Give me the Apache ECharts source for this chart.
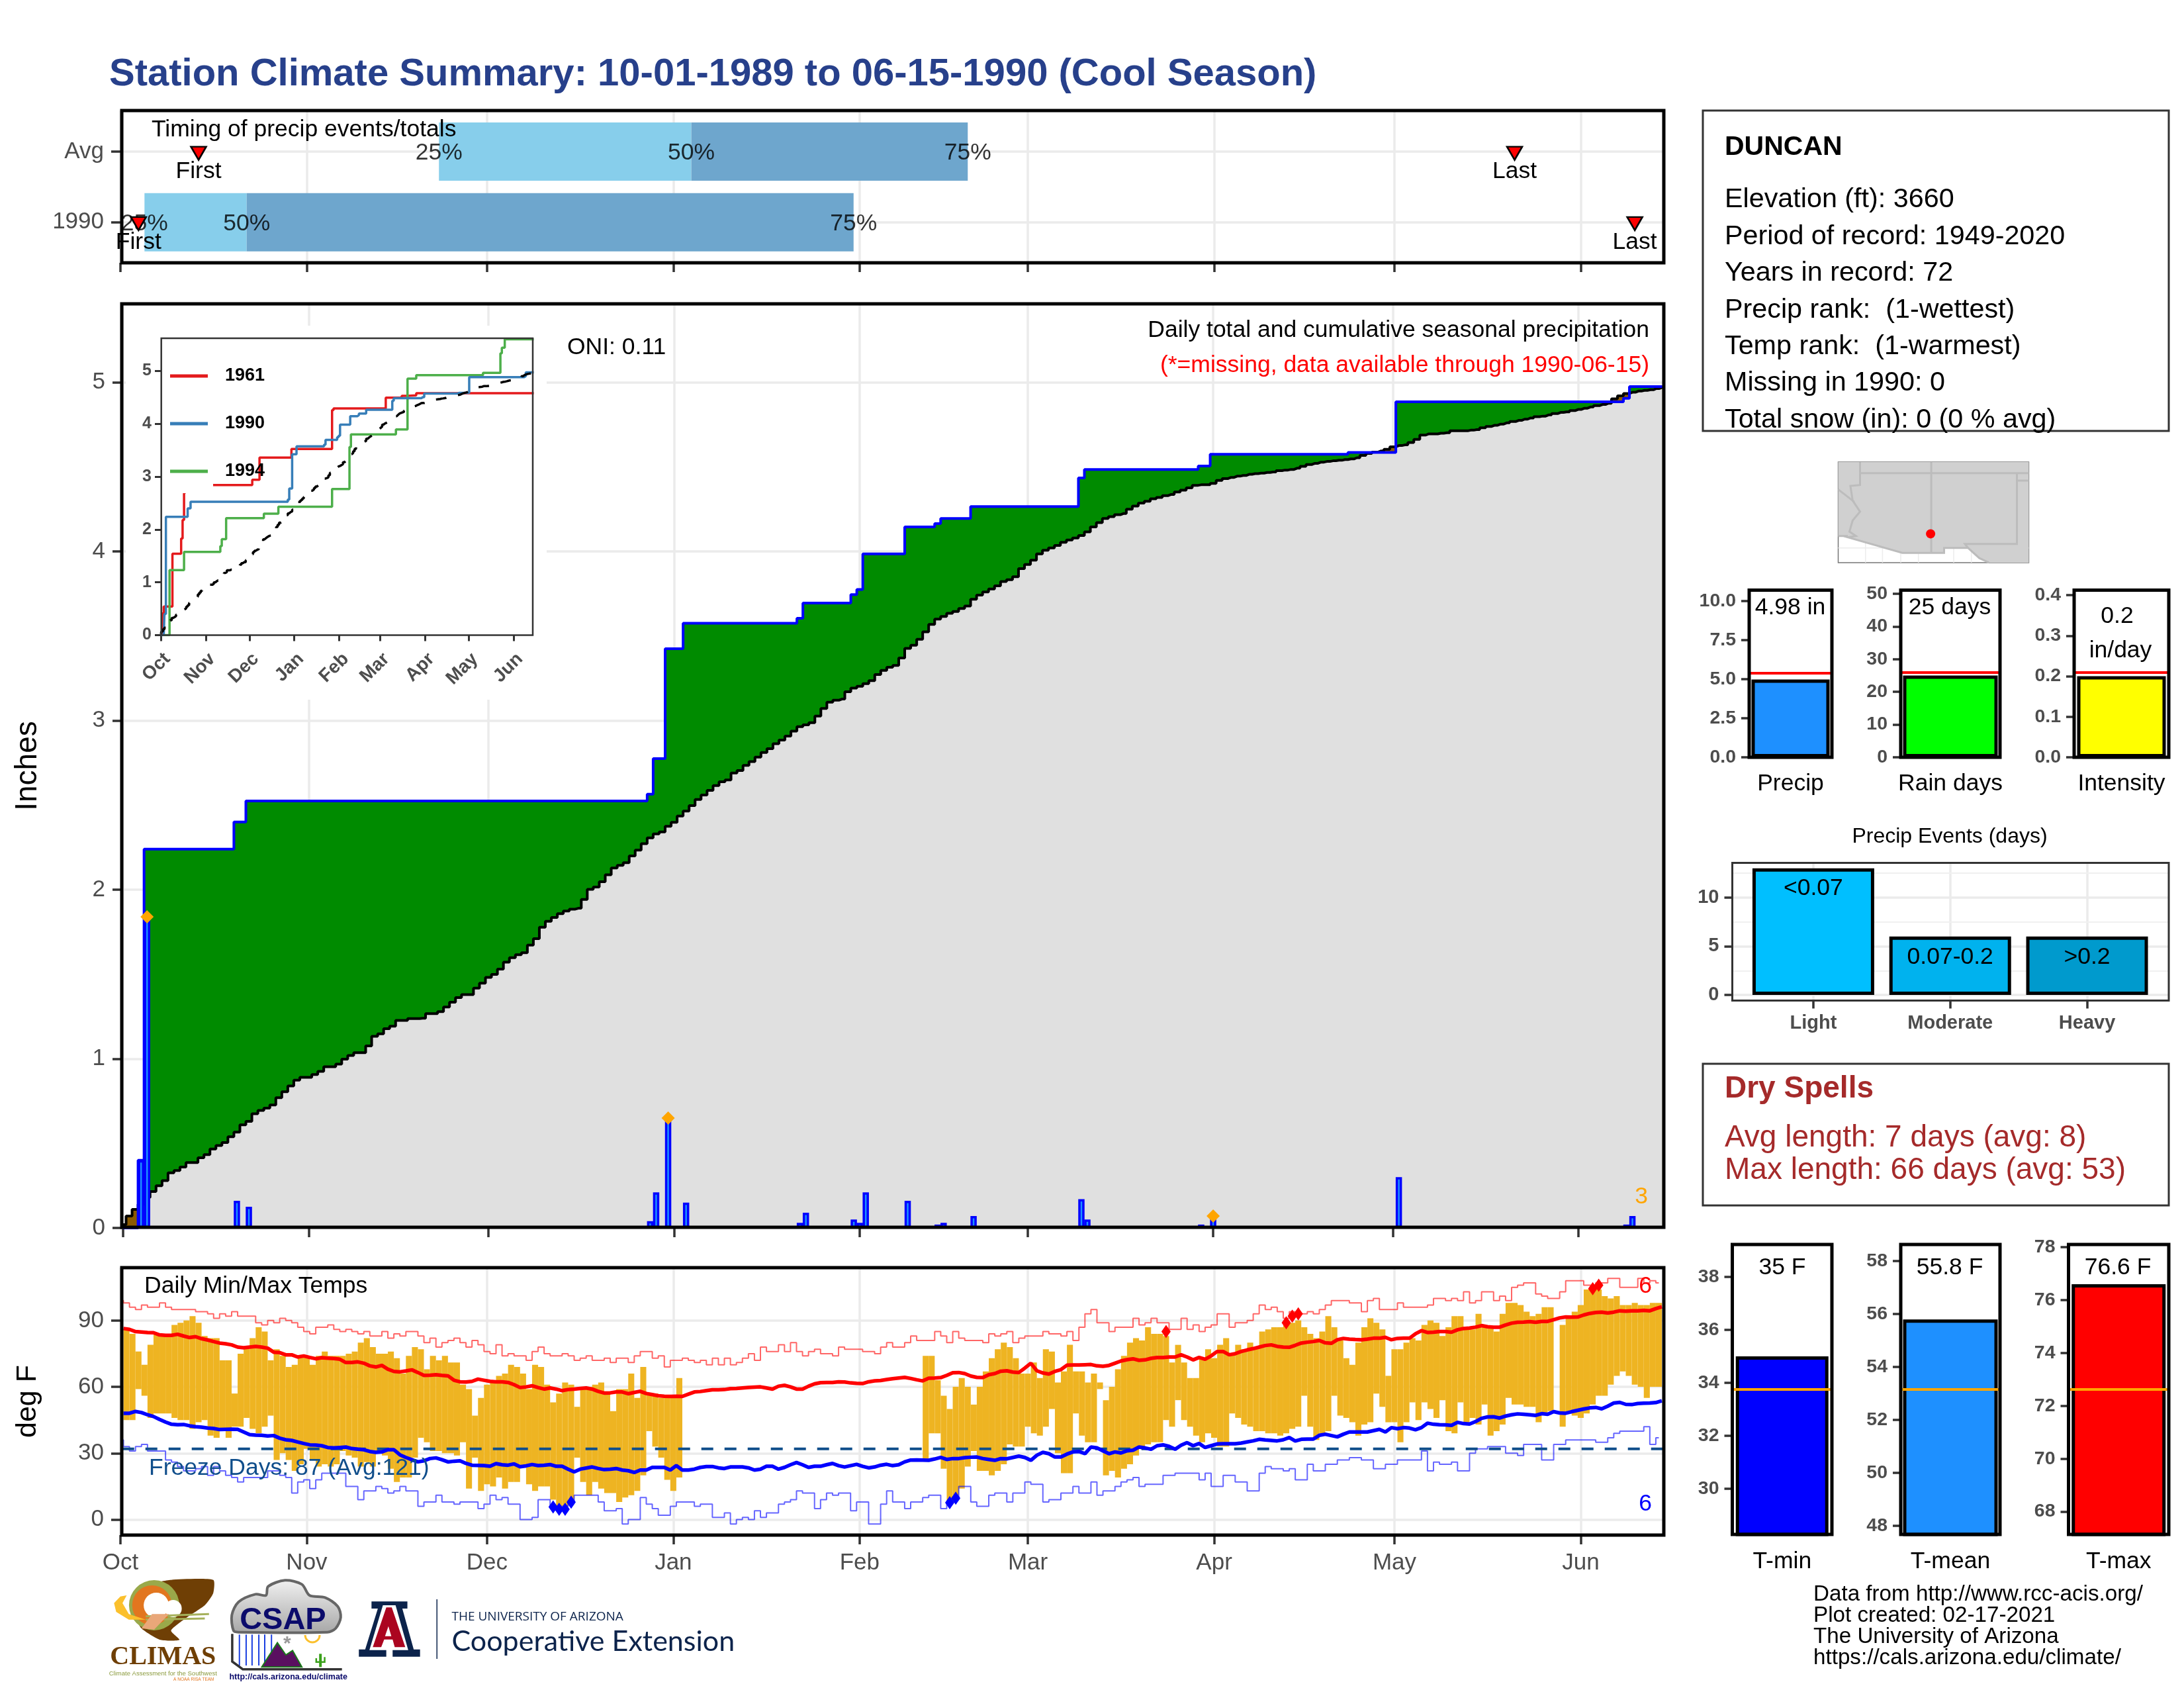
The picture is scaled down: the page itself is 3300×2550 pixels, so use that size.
<!DOCTYPE html>
<html>
<head>
<meta charset="utf-8">
<title>Station Climate Summary</title>
<script src="https://cdn.jsdelivr.net/npm/echarts@6/dist/echarts.min.js"></script>
<style>html,body{margin:0;background:#fff}#chart{width:3300px;height:2550px}</style>
</head>
<body>
<div id="chart"></div>
<script>
var FONT = '"Liberation Sans", Arial, sans-serif';
var GREY = '#4d4d4d';

// month ticks, counted in days from Oct 1
var monthDays = [0, 31, 61, 92, 123, 151, 182, 212, 243];
var monthNames = ['Oct', 'Nov', 'Dec', 'Jan', 'Feb', 'Mar', 'Apr', 'May', 'Jun'];

// timing of precip: [start day, end day]
var timingRows = ['1990', 'Avg'];
var timingAvgQuartiles = [53, 95, 141];
var timing1990Quartiles = [4, 21, 122];
var timingQuartileNames = ['25%', '50%', '75%'];
var timingFirst = [3, 13];
var timingLast = [252, 232];

// daily precip 1990 (only days with rain)
var rainDays = [3, 4, 19, 21, 88, 89, 91, 94, 113, 114, 122, 123, 124, 131, 136, 137, 142, 160, 161, 180, 182, 205, 213, 251, 252];
var rainAmounts = [0.40, 1.84, 0.16, 0.125, 0.04, 0.21, 0.65, 0.15, 0.03, 0.09, 0.05, 0.03, 0.21, 0.16, 0.02, 0.03, 0.07, 0.17, 0.05, 0.02, 0.07, 0.01, 0.30, 0.02, 0.07];
var rainTopDays = [4, 91, 182];
var rainTopValues = [1.84, 0.65, 0.07];

// average cumulative precip, one value per day
var avgCumulative = [
  0.02,0.07,0.11,0.14,0.18,0.215,0.25,0.28,0.326,0.34,0.36,0.387,0.387,0.415,0.433,0.467,0.487,0.505,0.539,0.567,
  0.61,0.63,0.675,0.695,0.708,0.727,0.77,0.805,0.84,0.874,0.89,0.89,0.907,0.926,0.953,0.953,0.969,0.998,1.02,1.036,
  1.036,1.076,1.133,1.148,1.178,1.193,1.227,1.227,1.238,1.238,1.24,1.267,1.267,1.279,1.306,1.335,1.362,1.38,1.38,1.418,
  1.447,1.481,1.499,1.53,1.571,1.598,1.616,1.627,1.672,1.71,1.778,1.813,1.836,1.858,1.874,1.885,1.89,1.942,2.002,2.016,
  2.047,2.088,2.128,2.144,2.16,2.2,2.234,2.272,2.306,2.33,2.342,2.375,2.398,2.436,2.465,2.497,2.533,2.56,2.587,2.616,
  2.638,2.649,2.69,2.705,2.735,2.757,2.784,2.811,2.834,2.863,2.885,2.908,2.937,2.964,2.975,2.987,3.027,3.072,3.109,3.12,
  3.127,3.17,3.192,3.203,3.218,3.236,3.272,3.297,3.315,3.326,3.37,3.427,3.445,3.481,3.525,3.569,3.6,3.616,3.634,3.645,
  3.663,3.677,3.717,3.742,3.76,3.778,3.797,3.822,3.833,3.85,3.898,3.923,3.948,3.985,4.007,4.021,4.035,4.054,4.068,4.079,
  4.094,4.116,4.145,4.17,4.195,4.206,4.217,4.224,4.25,4.268,4.286,4.297,4.311,4.319,4.33,4.337,4.351,4.362,4.376,4.391,
  4.394,4.394,4.402,4.42,4.431,4.438,4.445,4.449,4.456,4.46,4.463,4.467,4.47,4.478,4.481,4.485,4.492,4.503,4.514,4.521,
  4.528,4.532,4.536,4.539,4.543,4.547,4.554,4.568,4.579,4.587,4.594,4.604,4.619,4.626,4.63,4.644,4.663,4.688,4.695,4.695,
  4.699,4.702,4.713,4.713,4.713,4.717,4.72,4.731,4.739,4.746,4.753,4.76,4.768,4.775,4.782,4.789,4.797,4.8,4.807,4.815,
  4.822,4.825,4.833,4.84,4.847,4.854,4.862,4.869,4.876,4.902,4.92,4.934,4.941,4.948,4.952,4.956,4.963,4.97
];

// inset: other years as [day of change], [cumulative inches]
var inset1961Days = [0, 1, 2, 8, 14, 15, 16, 17, 63, 68, 90, 118, 119, 155, 166, 170, 176, 257];
var inset1961Values = [0, 0.41, 0.54, 1.54, 1.83, 2.18, 2.7, 2.84, 2.94, 3.36, 3.525, 4.26, 4.29, 4.495, 4.53, 4.54, 4.58, 4.58];
var inset1994Days = [0, 5, 6, 16, 41, 42, 45, 71, 81, 118, 130, 131, 162, 170, 176, 222, 234, 235, 237, 257];
var inset1994Values = [0, 0, 1.23, 1.575, 1.686, 1.815, 2.214, 2.3, 2.43, 2.767, 3.56, 3.8, 3.895, 4.856, 4.92, 4.966, 5.336, 5.44, 5.6, 5.6];

// daily temps
var dailyMax = [
  86,84,76,70,79,84,84,84,88,89,90,92,89,83,82,82,72,72,57,75,78,82,87,85,72,77,74,69,70,74,
  74,70,74,76,74,74,74,75,76,80,82,78,75,75,76,73,66,74,78,77,68,74,72,74,71,71,61,59,47,55,
  61,62,65,66,70,69,66,59,70,69,61,53,57,62,61,51,59,60,61,62,58,49,59,59,66,55,69,57,57,55,
  56,56,64,null,null,null,null,null,null,null,null,null,null,null,null,null,null,null,null,null,
  null,null,null,null,null,null,null,null,null,null,null,null,null,null,null,null,null,null,null,null,
  null,null,null,74,74,63,56,50,60,64,60,52,60,67,73,77,80,78,73,66,66,71,64,77,76,62,67,79,67,
  67,62,66,62,54,60,68,74,80,82,81,87,84,84,83,71,79,71,64,64,73,77,73,79,82,75,79,77,80,78,
  85,86,87,87,88,89,90,87,84,82,85,92,87,81,73,70,80,87,91,89,86,65,77,77,80,82,81,88,90,89,
  83,87,92,92,86,86,93,87,87,85,93,98,98,97,94,92,93,96,96,null,88,91,94,97,104,104,104,101,100,101,
  97,97,98,97,97,98,98
];
var dailyMin = [
  45,45,59,56,46,48,48,48,46,45,45,41,44,45,38,37,41,37,42,42,46,41,39,42,47,27,30,27,22,25,
  32,27,24,25,24,25,31,29,28,24,26,24,31,29,23,17,19,19,28,37,35,31,31,30,30,29,35,14,28,13,
  16,15,19,14,17,17,24,16,13,15,15,9,6,6,7,28,17,11,17,14,12,12,8,10,11,13,20,40,33,28,
  18,13,19,null,null,null,null,null,null,null,null,null,null,null,null,null,null,null,null,null,
  null,null,null,null,null,null,null,null,null,null,null,null,null,null,null,null,null,null,null,null,
  null,null,null,27,39,39,23,8,11,14,24,31,22,22,20,22,25,34,33,33,42,39,38,42,50,30,21,21,48,
  38,35,35,59,20,22,19,23,25,29,33,34,35,35,45,42,54,45,42,38,35,39,37,33,33,48,46,43,42,40,
  40,39,39,38,39,41,42,56,42,36,39,40,56,47,46,44,38,43,44,57,51,44,44,35,44,53,45,53,50,46,
  54,40,39,53,43,46,43,52,38,40,43,55,52,52,51,51,44,48,49,null,42,48,47,46,48,52,56,56,61,65,
  67,65,61,60,55,60,60
];
var normalMax = [
  86.4,86,85,84.8,84.6,84.5,83.5,83.3,83.3,83.8,83,82.3,82.7,81.8,81.2,80.5,79.8,79.5,79,78,
  77.7,78,78.3,78,77.5,75.7,75.5,74.5,74.5,73.5,74,73.3,72.7,73.2,73,72.8,72.5,71,71,71.3,
  70.7,69.5,69,69.7,68,67,66.8,67.2,67.7,66.5,65.2,65.3,65.5,65.2,65,63,62.3,62.2,62.5,63.5,
  63,62.5,62.3,62.3,62,61,59.7,60,60.5,59.7,59,59.5,59,58.3,58.8,59,59.3,59.5,59,58,
  57.2,57.3,57.7,57.7,56.9,57.5,58,57,56.5,56,55.8,55.7,55.8,55.7,56.7,57.7,57.9,58.3,58.7,58.7,
  58.8,59.2,59.3,59.5,59.7,59.9,60,59.5,59,60.3,60.7,60,59,59,60.3,61.4,61.9,62,62,62.3,
  62.2,61.8,61.6,61.5,62.3,62.7,62.9,63.3,63.7,64,64.3,63.8,63.2,62.7,63.9,64,64.2,65.2,66.4,66.5,
  66,64.9,64.3,64.2,65.5,66,67.1,67.3,66.7,66.5,68.5,70.7,67.3,66.3,65.8,67,67.8,69.8,69.9,69.9,
  70,70.1,69.5,69.3,69.7,70.7,71.7,72.3,72.7,72,72.2,72.9,73.3,73.3,73.5,73.5,74.5,73.5,72.2,73.3,
  72.5,74,76,76,74.5,75,76,76.7,77.3,78,78.7,79,78.3,78,77.9,78.8,79.8,80.2,80.5,81,
  79.9,79.7,81.3,81.9,81.6,81.4,81.3,81.6,82,82,82.4,81.3,81.9,82,82,84,85.4,84.6,84.7,85,
  85,84.7,85.8,86.4,86.6,87,87.7,87.2,87,87,88,88.8,89.2,89.3,89.5,89.2,89.6,89.6,90.4,91.2,
  91.6,91.5,91.6,92.5,93.2,93.6,93.8,93.4,93.8,94.4,94.2,94.4,94.4,94.6,94.4,95.4,96.2
];
var normalMin = [
  48.1,48.1,48.9,48.4,47.4,46.6,45.3,44.1,43.1,42.9,43,42.4,42,41.8,41.4,41.2,40.7,40.8,40.9,40.8,
  39.6,38.4,38.2,38.1,37.8,38,36.8,36.1,35.8,35.1,34.4,33.8,33.7,33.4,32.6,32.4,32.6,32.8,32.1,31.8,
  31.6,30.8,30.4,30.6,31.6,31.6,29.3,28.1,27.1,26.1,26.6,27.6,27.9,27.1,26.1,26.4,26.6,25.4,24.6,24.5,
  24.4,24.1,25.3,24.8,24.6,25.2,23.9,24.3,24.9,24.4,24.6,24.9,24.1,24.1,22.8,21.6,22.8,23.3,23.8,23.1,
  22.6,22.8,23.1,22.4,22.1,21.3,22.4,22.4,23.6,23.6,23.6,22.4,24.4,22.4,22.4,22.8,23.6,24,24,23.4,
  23.1,23.8,23.8,23.8,23.4,22.4,22.8,24.1,24.1,22.8,23.6,24.8,25.8,24.8,23.6,24.1,24.1,24.8,25.4,24.4,
  23.8,24.4,25,24.1,23.4,23.8,24.6,25,24.4,24.8,26.1,26.9,27,26.9,26.8,27.4,28.1,27.2,27.6,27.6,
  28,28.2,28.3,27.6,27.2,26.8,27.6,27.5,28.1,28.7,28.1,26.8,29.1,30.4,29.8,28.3,28.3,29.6,30.6,30.8,
  29.8,32.8,32.4,31.1,29.8,30.6,30.1,31.1,31.4,32.8,32.4,31.8,33.4,33.8,33.1,31.8,33.6,34.8,33.4,34.4,
  32.6,33.4,34.2,34.3,34.3,34.3,34.6,35.1,35.6,36.3,36,35.8,35.6,36.1,37.1,35.5,36.3,36.4,36.4,38.1,
  38.6,38,37.4,38.6,39.6,39.6,39.6,39.6,40.2,40.8,39.6,41.6,41.1,41.6,41.4,40.6,41.6,43.6,43.1,42.9,
  42.8,42.6,44,43.4,43.2,44.3,45.8,46.4,46.5,45.9,46.8,47.4,47.8,47.6,47.4,47.1,47.9,47.6,48.8,48.2,
  48.1,48.8,49.4,50,50.5,50.7,50.1,51.3,52.7,53,52.1,52,52.5,52.6,52.7,52.9,53.7
];
var recordHigh = [
  99,98,96,95,97,96,96,98,96,95,95,95,95,94,94,93,91,93,92,94,92,92,92,89,88,90,89,91,90,89,
  87,85,84,87,87,88,86,85,86,85,84,85,83,83,85,82,84,83,85,85,83,80,82,78,80,81,82,80,78,81,
  79,76,75,79,74,75,74,74,72,76,78,75,74,74,75,74,72,73,74,72,72,73,71,73,73,71,74,76,76,73,
  74,69,72,72,73,72,71,72,70,73,70,73,70,71,73,75,72,78,76,76,79,76,80,76,74,76,77,75,75,74,
  78,77,77,77,76,76,75,78,80,78,78,80,83,81,81,81,85,83,80,85,82,81,81,81,80,84,83,84,85,80,
  82,83,83,83,85,84,84,83,85,81,87,93,95,89,89,85,87,87,87,91,88,89,91,89,89,86,86,91,86,88,
  85,87,88,93,93,87,89,89,90,93,97,95,96,94,91,94,93,93,94,93,95,97,99,99,99,98,98,94,99,100,
  95,95,95,98,96,96,96,96,97,100,100,99,100,99,103,98,99,103,103,99,101,99,105,106,107,107,102,101,100,100,
  103,108,108,108,106,106,107,107,109,109,105,105,105,109,107,108,107
];
var recordLow = [
  36,33,31,33,34,31,31,31,27,26,24,22,22,23,24,20,24,22,20,19,17,19,19,19,19,22,22,20,19,12,
  17,18,14,18,21,21,21,21,15,15,9,13,13,15,14,12,13,15,13,13,6,8,8,11,8,8,7,8,8,8,
  5,7,11,9,10,7,7,0,0,1,9,9,6,6,6,8,11,11,11,11,8,4,4,5,-2,0,0,10,7,5,
  2,2,6,8,8,8,6,7,7,1,1,3,-2,0,1,0,4,1,3,3,7,8,9,13,12,12,5,9,12,11,
  12,12,4,8,8,-2,-2,7,13,8,8,5,8,8,10,11,11,5,8,9,15,15,8,6,6,11,12,12,8,12,
  12,17,16,16,8,9,9,12,12,15,12,12,17,11,13,13,15,17,18,19,15,16,16,16,20,20,21,21,21,21,
  18,21,15,15,20,20,17,17,13,13,21,24,23,23,22,23,18,18,25,22,22,25,25,27,27,28,28,27,27,23,
  23,25,25,27,27,27,27,31,22,26,25,25,26,22,22,30,32,32,33,33,33,30,30,29,34,34,34,27,27,34,
  34,36,36,36,36,36,35,35,37,39,40,40,40,40,42,34,37
];
var maxDiamondDays = [174, 194, 195, 196, 245, 246];
var maxDiamondValues = [85, 89, 92, 93, 104.4, 106];
var minDiamondDays = [72, 73, 74, 75, 138, 139];
var minDiamondValues = [5.7, 4.7, 4.7, 7.9, 7.7, 9.7];
var freezeLine = 32;

// small summary bars
var summaryLabels = ['Precip', 'Rain days', 'Intensity'];
var summaryValues = [4.98, 25, 0.2];
var summaryAvg = [5.38, 26, 0.21];
var summaryNotes = [['4.98 in'], ['25 days'], ['0.2', 'in/day']];
var summaryTicks = [[0, 2.5, 5, 7.5, 10], [0, 10, 20, 30, 40, 50], [0, 0.1, 0.2, 0.3, 0.4]];

var eventLabels = ['Light', 'Moderate', 'Heavy'];
var eventNames = ['<0.07', '0.07-0.2', '>0.2'];
var eventValues = [13, 6, 6];

var tempLabels = ['T-min', 'T-mean', 'T-max'];
var tempValues = [35, 55.8, 76.6];
var tempAvg = [33.76, 53.16, 72.63];
var tempNotes = ['35 F', '55.8 F', '76.6 F'];
var tempTicks = [[30, 32, 34, 36, 38], [48, 50, 52, 54, 56, 58], [68, 70, 72, 74, 76, 78]];

var stationName = 'DUNCAN';
var stationLines = ['Elevation (ft): 3660', 'Period of record: 1949-2020', 'Years in record: 72', 'Precip rank:  (1-wettest)', 'Temp rank:  (1-warmest)', 'Missing in 1990: 0', 'Total snow (in): 0 (0 % avg)'];
var drySpellLines = ['Avg length: 7 days (avg: 8)', 'Max length: 66 days (avg: 53)'];
var footerLines = ['Data from http://www.rcc-acis.org/', 'Plot created: 02-17-2021', 'The University of Arizona', 'https://cals.arizona.edu/climate/'];

// series built from the arrays above
var avgSeries = avgCumulative.map(function (v, d) { return [d, v]; });
var cumSeries = [];
var running = 0;
avgCumulative.forEach(function (v, d) {
  var k = rainDays.indexOf(d);
  if (k >= 0) running += rainAmounts[k];
  cumSeries.push([d, +running.toFixed(3)]);
});
var lowerSeries = cumSeries.map(function (p, d) { return [d, Math.min(p[1], avgCumulative[d])]; });
var rainSeries = rainDays.map(function (d, i) { return [d, rainAmounts[i]]; });
var tempBars = [];
dailyMax.forEach(function (v, i) {
  if (v !== null) tempBars.push([i + 1, dailyMin[i], v]);
});
function zip(a, b) { return a.map(function (v, i) { return [v, b[i]]; }); }

var grids = [], xAxes = [], yAxes = [], series = [], els = [];

function addGrid(left, top, right, bottom) {
  grids.push({ left: left, top: top, width: right - left, height: bottom - top, containLabel: false, outerBoundsMode: 'none' });
  return grids.length - 1;
}
function tickStyle(len, w) {
  return { show: true, length: len, lineStyle: { color: '#333333', width: w } };
}
var gridLine = { show: true, lineStyle: { color: '#ebebeb', width: 3.5 } };

function monthAxis(g, min, max, opt) {
  opt = opt || {};
  xAxes.push({
    gridIndex: g, type: 'value', min: min, max: max, z: opt.z || 0,
    axisLine: { show: false, onZero: false },
    axisTick: Object.assign(tickStyle(opt.tick || 14, opt.tickW || 3.5), { customValues: monthDays }),
    axisLabel: {
      show: !!opt.labels, customValues: monthDays, margin: opt.margin || 25,
      color: GREY, fontFamily: FONT, fontSize: opt.size || 35, fontWeight: opt.weight || 'normal', rotate: opt.rotate || 0,
      verticalAlign: opt.rotate ? 'top' : undefined,
      formatter: function (v) { return monthNames[monthDays.indexOf(v)]; }
    },
    splitLine: opt.noGrid ? { show: false } : gridLine
  });
  return xAxes.length - 1;
}
function valueAxis(g, min, max, ticks, opt) {
  opt = opt || {};
  yAxes.push({
    gridIndex: g, type: 'value', min: min, max: max, z: opt.z || 0,
    name: opt.name, nameLocation: 'middle', nameGap: opt.nameGap,
    nameTextStyle: { color: '#000', fontFamily: FONT, fontSize: opt.nameSize || 43 },
    axisLine: { show: false, onZero: false },
    axisTick: Object.assign(tickStyle(opt.tick || 14, opt.tickW || 3.5), { customValues: ticks }),
    axisLabel: {
      customValues: ticks, margin: opt.margin || 25, color: GREY, fontFamily: FONT,
      fontSize: opt.size || 35, fontWeight: opt.weight || 'normal', padding: [8, 0, 0, 0],
      formatter: opt.fmt || function (v) { return String(v); }
    },
    splitLine: opt.noGrid ? { show: false } : gridLine
  });
  return yAxes.length - 1;
}
function frame(x0, y0, x1, y1, w, c) {
  els.push({ type: 'rect', z: 20, silent: true, shape: { x: x0, y: y0, width: x1 - x0, height: y1 - y0 }, style: { fill: 'none', stroke: c || '#000', lineWidth: w } });
}
function text(x, y, s, size, opt) {
  opt = opt || {};
  els.push({
    type: 'text', z: opt.z || 21, silent: true, x: x, y: y + 3,
    style: {
      text: s, fill: opt.color || '#000', fontFamily: opt.family || FONT, fontSize: size, fontWeight: opt.weight || 'normal',
      align: opt.align || 'left', verticalAlign: 'middle', textAlign: opt.align || 'left', textVerticalAlign: 'middle'
    }
  });
}
function poly(pts, fill, stroke, lw, fx, fy, smooth) {
  els.push({
    type: 'polygon', z: 21, silent: true,
    shape: { points: pts.map(function (p) { return [fx(p[0]), fy(p[1])]; }), smooth: smooth || 0 },
    style: { fill: fill, stroke: stroke || 'none', lineWidth: lw || 0 }
  });
}
function line(pts, stroke, lw, fx, fy) {
  els.push({
    type: 'polyline', z: 21, silent: true,
    shape: { points: pts.map(function (p) { return [fx(p[0]), fy(p[1])]; }) },
    style: { fill: 'none', stroke: stroke, lineWidth: lw }
  });
}

// timing panel
var gTop = addGrid(182, 167, 2514, 397);
var xTop = monthAxis(gTop, 0, 256.83);
var yTop = valueAxis(gTop, 0.426, 2.58, [1, 2], {
  noGrid: false, fmt: function (v) { return timingRows[v - 1]; }
});
function timingRect(params, api) {
  var a = api.coord([api.value(0), api.value(2) + 0.412]);
  var b = api.coord([api.value(1), api.value(2) - 0.412]);
  return { type: 'rect', shape: { x: a[0], y: a[1], width: b[0] - a[0], height: b[1] - a[1] }, style: { fill: api.value(3) ? '#6ea6cd' : '#87ceeb' } };
}
series.push({
  type: 'custom', name: 'timing', xAxisIndex: xTop, yAxisIndex: yTop, z: 2, silent: true,
  renderItem: timingRect, encode: { x: [0, 1], y: 2 },
  data: [
    [timingAvgQuartiles[0], timingAvgQuartiles[1], 2, 0], [timingAvgQuartiles[1], timingAvgQuartiles[2], 2, 1],
    [timing1990Quartiles[0], timing1990Quartiles[1], 1, 0], [timing1990Quartiles[1], timing1990Quartiles[2], 1, 1]
  ]
});
function quartileData(days, row) {
  return days.map(function (d, i) { return { value: [d, row], name: timingQuartileNames[i] }; });
}
series.push({
  type: 'scatter', name: 'quartiles', xAxisIndex: xTop, yAxisIndex: yTop, z: 3, silent: true, symbolSize: 0,
  data: quartileData(timingAvgQuartiles, 2).concat(quartileData(timing1990Quartiles, 1)),
  label: { show: true, position: 'inside', offset: [0, 2], formatter: '{b}', color: '#000', fontFamily: FONT, fontSize: 35.5 }
});
function markerSeries(days, word) {
  return {
    type: 'scatter', name: word, xAxisIndex: xTop, yAxisIndex: yTop, z: 4, silent: true,
    symbol: 'triangle', symbolRotate: 180, symbolSize: [23, 20],
    itemStyle: { color: '#ff0000', borderColor: '#000', borderWidth: 2.5, opacity: 1 },
    data: [[days[0], 0.98], [days[1], 1.975]],
    label: { show: true, position: 'inside', offset: [0, 28], formatter: word, color: '#000', fontFamily: FONT, fontSize: 35.5 }
  };
}
series.push(markerSeries(timingFirst, 'First'));
series.push(markerSeries(timingLast, 'Last'));
frame(184, 167, 2514, 397, 5);
text(229, 193, 'Timing of precip events/totals', 35.5, {});

// main precip panel
var gMain = addGrid(184, 459, 2514, 1855);
var xMain = monthAxis(gMain, -0.22, 257.24);
var yMain = valueAxis(gMain, 0, 5.464, [0, 1, 2, 3, 4, 5], { name: 'Inches', nameGap: 119, nameSize: 46 });
function areaSeries(name, data, color, z) {
  return {
    type: 'line', name: name, xAxisIndex: xMain, yAxisIndex: yMain, z: z, silent: true, step: 'middle', showSymbol: false,
    lineStyle: { width: 0, opacity: 0 }, areaStyle: { color: color, opacity: 1 }, data: data
  };
}
series.push(areaSeries('above average', cumSeries, '#008b00', 2));
series.push(areaSeries('below average', avgSeries, '#8b5a00', 3));
series.push(areaSeries('under both', lowerSeries, '#e0e0e0', 4));
series.push({
  type: 'line', name: 'avg cumulative', xAxisIndex: xMain, yAxisIndex: yMain, z: 5, silent: true, step: 'middle', showSymbol: false,
  lineStyle: { color: '#000', width: 4 }, data: avgSeries
});
series.push({
  type: 'line', name: 'cumulative 1990', xAxisIndex: xMain, yAxisIndex: yMain, z: 6, silent: true, step: 'middle', showSymbol: false,
  lineStyle: { color: '#0000ff', width: 4 }, data: cumSeries
});
series.push({
  type: 'bar', name: 'daily precip', xAxisIndex: xMain, yAxisIndex: yMain, z: 7, silent: true, barWidth: 9.5,
  itemStyle: { color: '#1e90ff', borderColor: '#0000ff', borderWidth: 3.5 }, data: rainSeries
});
series.push({
  type: 'scatter', name: 'top events', xAxisIndex: xMain, yAxisIndex: yMain, z: 8, silent: true, symbol: 'diamond', symbolSize: 20,
  itemStyle: { color: '#ffa500', opacity: 1 }, data: zip(rainTopDays, rainTopValues)
});
frame(184, 459, 2514, 1854, 5);
text(2492, 496, 'Daily total and cumulative seasonal precipitation', 35.5, { align: 'right' });
text(2492, 549, '(*=missing, data available through 1990-06-15)', 35.5, { align: 'right', color: '#ff0000' });
text(857, 522, 'ONI: 0.11', 35.5, {});
text(2480, 1805, '3', 35.5, { align: 'center', color: '#ffa500' });

// inset of wet years, white patch hides the main grid behind it
els.push({ type: 'rect', z: 1, silent: true, shape: { x: 190, y: 492, width: 636, height: 565 }, style: { fill: '#fff' } });
var gInset = addGrid(243, 511, 805, 959.4);
var xInset = monthAxis(gInset, 0, 256.3, { labels: true, size: 28, weight: 'bold', rotate: 45, tick: 9, tickW: 3, margin: 22, z: 3, noGrid: true });
var yInset = valueAxis(gInset, 0, 5.62, [0, 1, 2, 3, 4, 5], { size: 25, weight: 'bold', tick: 9, tickW: 3, margin: 14, z: 3, noGrid: true });
function insetSeries(name, data, color, step, z) {
  return {
    type: 'line', name: name, xAxisIndex: xInset, yAxisIndex: yInset, z: z, silent: true, step: step, showSymbol: false,
    color: color, lineStyle: { color: color, width: 3.5 }, data: data
  };
}
series.push(insetSeries('1961', zip(inset1961Days, inset1961Values), '#e41a1c', 'end', 3));
series.push(insetSeries('1994', zip(inset1994Days, inset1994Values), '#4daf4a', 'end', 3));
series.push(insetSeries('1990', cumSeries, '#377eb8', 'middle', 4));
var insetAvg = insetSeries('avg', avgSeries, '#000', 'middle', 5);
insetAvg.lineStyle.type = [16, 18];
series.push(insetAvg);
els.push({ type: 'rect', z: 6, silent: true, shape: { x: 246, y: 542, width: 76, height: 203 }, style: { fill: '#fff' } });
frame(243.7, 511, 805, 959.4, 2.5, '#333333');

// daily temps panel
var gTemp = addGrid(182, 1915, 2514, 2319);
var xTemp = monthAxis(gTemp, 0, 256.83, { labels: true, margin: 25 });
var yTemp = valueAxis(gTemp, -7, 113.9, [0, 30, 60, 90], { name: 'deg F', nameGap: 118 });
series.push({
  type: 'custom', name: 'daily range', xAxisIndex: xTemp, yAxisIndex: yTemp, z: 2, silent: true, encode: { x: 0, y: [1, 2] },
  renderItem: function (params, api) {
    var low = api.coord([api.value(0), api.value(1)]);
    var high = api.coord([api.value(0), api.value(2)]);
    var w = api.size([1, 0])[0];
    return { type: 'rect', shape: { x: low[0] - w / 2, y: high[1], width: w, height: low[1] - high[1] }, style: { fill: '#eeb422' } };
  },
  data: tempBars
});
function dayLine(name, arr, offset, color, width, opacity, step, z) {
  return {
    type: 'line', name: name, xAxisIndex: xTemp, yAxisIndex: yTemp, z: z, silent: true, showSymbol: false, step: step,
    lineStyle: { color: color, width: width, opacity: opacity },
    data: arr.map(function (v, i) { return [i + offset, v]; })
  };
}
series.push(dayLine('record high', recordHigh, 0, '#ff0000', 2, 0.6, 'middle', 3));
series.push(dayLine('record low', recordLow, 0, '#0000ff', 2, 0.6, 'middle', 3));
series.push({
  type: 'line', name: 'freeze', xAxisIndex: xTemp, yAxisIndex: yTemp, z: 4, silent: true, showSymbol: false,
  lineStyle: { color: '#104e8b', width: 4, type: [18, 17] }, data: [[0.3, freezeLine], [256.83, freezeLine]]
});
series.push(dayLine('normal high', normalMax, 0.5, '#ff0000', 5.5, 1, false, 5));
series.push(dayLine('normal low', normalMin, 0.5, '#0000ff', 5.5, 1, false, 5));
function diamonds(name, days, vals, color) {
  return {
    type: 'scatter', name: name, xAxisIndex: xTemp, yAxisIndex: yTemp, z: 6, silent: true, symbol: 'diamond', symbolSize: [14, 20],
    itemStyle: { color: color, opacity: 1 }, data: zip(days, vals)
  };
}
series.push(diamonds('new highs', maxDiamondDays, maxDiamondValues, '#ff0000'));
series.push(diamonds('new lows', minDiamondDays, minDiamondValues, '#0000ff'));
frame(184, 1915, 2514, 2319, 5);
text(218, 1940, 'Daily Min/Max Temps', 35.5, {});
text(225, 2215, 'Freeze Days: 87 (Avg:121)', 35.5, { color: '#104e8b' });
text(2486, 1940, '6', 35.5, { align: 'center', color: '#ff0000' });
text(2486, 2269, '6', 35.5, { align: 'center', color: '#0000ff' });

// small bars with one value and a reference line
function smallBar(layout, label, value, refValue, refColor, ticks, fmt, color) {
  var g = addGrid(layout[0], layout[2], layout[1], layout[3]);
  xAxes.push({
    gridIndex: g, type: 'category', data: [label], axisLine: { show: false }, axisTick: { show: false }, splitLine: { show: false },
    axisLabel: { margin: layout[7], color: '#000', fontFamily: FONT, fontSize: 35.5 }
  });
  var y = valueAxis(g, layout[4], layout[5], ticks, { noGrid: true, size: 28.5, weight: 'bold', tick: 12, margin: 20, fmt: fmt });
  series.push({
    type: 'bar', name: label, xAxisIndex: xAxes.length - 1, yAxisIndex: y, z: 3, silent: true, barWidth: layout[6],
    itemStyle: { color: color, borderColor: '#000', borderWidth: 5 }, data: [value],
    markLine: {
      silent: true, symbol: 'none', animation: false, label: { show: false }, data: [{ yAxis: refValue }],
      lineStyle: { color: refColor, width: 4, type: 'solid' }
    }
  });
  frame(layout[0], layout[2], layout[1], layout[3], 5);
}
var summaryLayout = [
  [2643, 2768, 891.5, 1144, 0, 10.7, 118, 22],
  [2872, 3022, 891.5, 1144, 0, 51.1, 143, 22],
  [3134, 3277, 891.5, 1144, 0, 0.4126, 134, 22]
];
var summaryColors = ['#1e90ff', '#00ff00', '#ffff00'];
var summaryFmt = [
  function (v) { return v.toFixed(1); },
  function (v) { return String(v); },
  function (v) { return v.toFixed(1); }
];
summaryLabels.forEach(function (label, i) {
  smallBar(summaryLayout[i], label, summaryValues[i], summaryAvg[i], '#ff0000', summaryTicks[i], summaryFmt[i], summaryColors[i]);
});
text(2705, 915, summaryNotes[0][0], 35.5, { align: 'center' });
text(2946, 915, summaryNotes[1][0], 35.5, { align: 'center' });
text(3199, 928, summaryNotes[2][0], 35.5, { align: 'center' });
text(3204, 980, summaryNotes[2][1], 35.5, { align: 'center' });

var tempLayout = [
  [2617.5, 2768, 1880, 2318, 28.27, 39.23, 140, 23],
  [2872, 3022, 1880, 2318, 47.68, 58.63, 143, 23],
  [3125.5, 3277, 1880, 2318, 67.14, 78.1, 142, 23]
];
var tempColors = ['#0000ff', '#1e90ff', '#ff0000'];
tempLabels.forEach(function (label, i) {
  smallBar(tempLayout[i], label, tempValues[i], tempAvg[i], '#ffa500', tempTicks[i], null, tempColors[i]);
});
text(2693, 1912, tempNotes[0], 35.5, { align: 'center' });
text(2946, 1912, tempNotes[1], 35.5, { align: 'center' });
text(3200, 1912, tempNotes[2], 35.5, { align: 'center' });

// precip events
var gEvents = addGrid(2617.5, 1303.6, 3277, 1511.6);
xAxes.push({
  gridIndex: gEvents, type: 'value', min: 0.408, max: 3.597,
  axisLine: { show: false, onZero: false },
  axisTick: Object.assign(tickStyle(12, 3.5), { customValues: [1, 2, 3] }),
  axisLabel: {
    customValues: [1, 2, 3], margin: 20, color: GREY, fontFamily: FONT, fontSize: 29, fontWeight: 'bold',
    formatter: function (v) { return eventLabels[v - 1]; }
  },
  splitLine: gridLine
});
var xEvents = xAxes.length - 1;
var yEvents = valueAxis(gEvents, -0.58, 13.55, [0, 5, 10], { size: 29, weight: 'bold', tick: 12, margin: 20 });
series.push({
  type: 'line', name: 'minor grid', xAxisIndex: xEvents, yAxisIndex: yEvents, z: 1, silent: true, showSymbol: false, data: [[1, 0]],
  lineStyle: { opacity: 0 },
  markLine: {
    z: 1, silent: true, symbol: 'none', animation: false, label: { show: false },
    lineStyle: { color: '#f0f0f0', width: 2, type: 'solid' }, data: [{ yAxis: 2.5 }, { yAxis: 7.5 }, { yAxis: 12.5 }]
  }
});
var eventColors = ['#00bfff', '#00b2ee', '#009acd'];
series.push({
  type: 'bar', name: 'events', xAxisIndex: xEvents, yAxisIndex: yEvents, z: 3, silent: true, barWidth: 184,
  itemStyle: { borderColor: '#000', borderWidth: 5 },
  data: eventValues.map(function (v, i) { return { value: [i + 1, v], itemStyle: { color: eventColors[i] } }; }),
  label: {
    show: true, position: 'insideTop', distance: 13, color: '#000', fontFamily: FONT, fontSize: 35.5,
    formatter: function (p) { return eventNames[p.dataIndex]; }
  }
});
frame(2617.5, 1303.6, 3277, 1511.6, 3, '#333333');
text(2946, 1261, 'Precip Events (days)', 32, { align: 'center' });

// station and dry spell boxes
frame(2573, 167, 3277, 651, 3, '#333333');
text(2606, 220, stationName, 41, { weight: 'bold' });
stationLines.forEach(function (s, i) { text(2606, 299 + i * 55.4, s, 41.3); });
frame(2573, 1607, 3277, 1821, 3, '#333333');
text(2606, 1642, 'Dry Spells', 46, { weight: 'bold', color: '#a52a2a' });
drySpellLines.forEach(function (s, i) { text(2606, 1716 + i * 49.5, s, 46, { color: '#a52a2a' }); });
footerLines.forEach(function (s, i) { text(2740, 2406 + i * 31.8, s, 33.2); });

// locator map
var mx = function (X) { return 2540 + X / 2.063; };
var my = function (Y) { return 150 + Y / 1.493; };
[575, 628, 685, 740, 850, 905].forEach(function (X) { line([[X, 985], [X, 1045]], '#ececec', 1.5, mx, my); });
line([[490, 1012], [1084, 1012]], '#ececec', 1.5, mx, my);
poly([[490, 818], [1084, 818], [1084, 1045], [960, 1045], [930, 1035], [895, 1012], [820, 1012], [820, 1023], [690, 1023], [520, 988], [490, 985]], '#d0d0d0', null, 0, mx, my);
var mapBorder = '#bcbcbc';
line([[558, 818], [558, 870], [528, 872], [535, 905], [558, 930], [535, 950], [525, 975], [545, 985], [520, 988], [690, 1023], [820, 1023], [820, 1012], [895, 1012], [930, 1035], [960, 1045]], mapBorder, 3, mx, my);
line([[558, 843], [1084, 843]], mapBorder, 3, mx, my);
line([[780, 818], [780, 1023]], mapBorder, 3, mx, my);
line([[1047, 843], [1047, 1003], [885, 1003], [895, 1012]], mapBorder, 3, mx, my);
line([[1047, 860], [1084, 860]], mapBorder, 3, mx, my);
line([[490, 880], [540, 908]], mapBorder, 3, mx, my);
line([[490, 985], [520, 985]], mapBorder, 3, mx, my);
frame(mx(490), my(818), mx(1084), my(1045), 1.5, '#777777');
els.push({ type: 'circle', z: 22, silent: true, shape: { cx: mx(778), cy: my(980), r: 7 }, style: { fill: '#ff0000' } });

// logos
var lx = function (X) { return 150 + X / 1.568; };
var ly = function (Y) { return 2350 + Y / 3; };
function disc(X, Y, r, fill) {
  els.push({ type: 'circle', z: 21, silent: true, shape: { cx: lx(X), cy: ly(Y), r: r }, style: { fill: fill } });
}
poly([[170, 110], [270, 110], [270, 170], [250, 225], [200, 290], [170, 340], [190, 382], [145, 382], [100, 330], [85, 270], [90, 190], [120, 130]], '#6f3f05', null, 0, lx, ly, 0.2);
disc(130, 225, 38, '#9aa94a');
disc(125, 225, 30, '#e2761f');
disc(135, 225, 19, '#ffffff');
disc(175, 240, 13, '#ffffff');
poly([[35, 215], [50, 185], [65, 180], [55, 215], [70, 265], [110, 290], [70, 290], [40, 255]], '#fbc02d', null, 0, lx, ly);
line([[110, 275], [260, 265]], '#a5b05a', 3, lx, ly);
line([[110, 290], [250, 285]], '#a5b05a', 3, lx, ly);
poly([[100, 330], [125, 265], [165, 265], [130, 335]], '#e9a779', null, 0, lx, ly);
text(lx(151), ly(452), 'CLIMAS', 40, { align: 'center', color: '#6f3f05', weight: 'bold', family: '"Liberation Serif", serif' });
text(lx(151), ly(526), 'Climate Assessment for the Southwest', 9.5, { align: 'center', color: '#8a9a3c' });
text(lx(272), ly(552), 'A NOAA RISA TEAM', 6.5, { align: 'right', color: '#e2761f' });

els.push({
  type: 'polygon', z: 21, silent: true,
  shape: { smooth: 0.3, points: [[318, 340], [314, 270], [330, 210], [370, 175], [395, 180], [400, 140], [440, 112], [480, 130], [498, 180], [535, 190], [565, 230], [572, 280], [560, 330], [540, 347], [330, 347]].map(function (p) { return [lx(p[0]), ly(p[1])]; }) },
  style: { fill: new echarts.graphic.LinearGradient(0, 0, 0, 1, [{ offset: 0, color: '#f2f2f2' }, { offset: 1, color: '#a6a6a6' }]), stroke: '#666666', lineWidth: 4 }
});
text(lx(435), ly(285), 'CSAP', 47, { align: 'center', color: '#0b0b6b', weight: 'bold' });
[332, 348, 362, 378, 392, 408].forEach(function (X) { line([[X, 358], [X, 498]], '#1a3fe0', 2, lx, ly); });
line([[315, 355], [315, 480], [340, 515], [575, 515]], '#333333', 3.5, lx, ly);
poly([[385, 505], [422, 395], [442, 450], [458, 430], [480, 505]], '#5a1060', '#1a7a1a', 2, lx, ly);
text(lx(445), ly(392), '*', 30, { align: 'center', color: '#999999', weight: 'bold' });
els.push({ type: 'arc', z: 21, silent: true, shape: { cx: lx(505), cy: ly(360), r: 11, startAngle: 0, endAngle: Math.PI }, style: { fill: 'none', stroke: '#fbc02d', lineWidth: 3 } });
line([[524, 505], [524, 445]], '#3aa01a', 4, lx, ly);
line([[514, 465], [514, 482], [534, 482], [534, 460]], '#3aa01a', 2.5, lx, ly);
text(lx(448), ly(543), 'http://cals.arizona.edu/climate', 12.5, { align: 'center', color: '#0b0b6b', weight: 'bold' });

poly([[645, 208], [730, 208], [730, 240], [718, 240], [745, 425], [760, 425], [760, 458], [695, 458], [695, 425], [705, 425], [700, 395], [670, 395], [665, 425], [680, 425], [680, 458], [615, 458], [615, 425], [630, 425], [660, 240], [645, 240]], '#0c234b', null, 0, lx, ly);
poly([[672, 225], [702, 225], [732, 428], [640, 428]], '#ffffff', null, 0, lx, ly);
poly([[680, 235], [693, 235], [725, 415], [700, 415], [695, 380], [675, 380], [668, 415], [648, 415]], '#ab0520', null, 0, lx, ly);
poly([[685, 320], [692, 365], [677, 365]], '#ffffff', null, 0, lx, ly);
line([[800, 198], [800, 468]], '#0c234b', 1.5, lx, ly);
text(lx(835), ly(270), 'THE UNIVERSITY OF ARIZONA', 19, { color: '#0c234b', family: '"Open Sans", sans-serif' });
text(lx(835), ly(380), 'Cooperative Extension', 43, { color: '#0c234b', family: 'Lato, sans-serif' });

var myChart = echarts.init(document.getElementById('chart'), null, { renderer: 'canvas', width: 3300, height: 2550 });
myChart.setOption({
  animation: false,
  backgroundColor: '#ffffff',
  title: {
    text: 'Station Climate Summary: 10-01-1989 to 06-15-1990 (Cool Season)', left: 165, top: 84, padding: 0,
    textStyle: { color: '#27408b', fontFamily: FONT, fontSize: 58, fontWeight: 'bold' }
  },
  legend: {
    data: ['1961', '1990', '1994'], orient: 'vertical', left: 257, top: 553, padding: 0, z: 7, selectedMode: false,
    icon: 'rect', itemWidth: 57, itemHeight: 5, itemGap: 42,
    textStyle: { color: '#000', fontFamily: FONT, fontSize: 27, fontWeight: 'bold', lineHeight: 30, padding: [0, 0, 0, 21] }
  },
  grid: grids,
  xAxis: xAxes,
  yAxis: yAxes,
  series: series,
  graphic: { elements: els }
});
</script>
</body>
</html>
